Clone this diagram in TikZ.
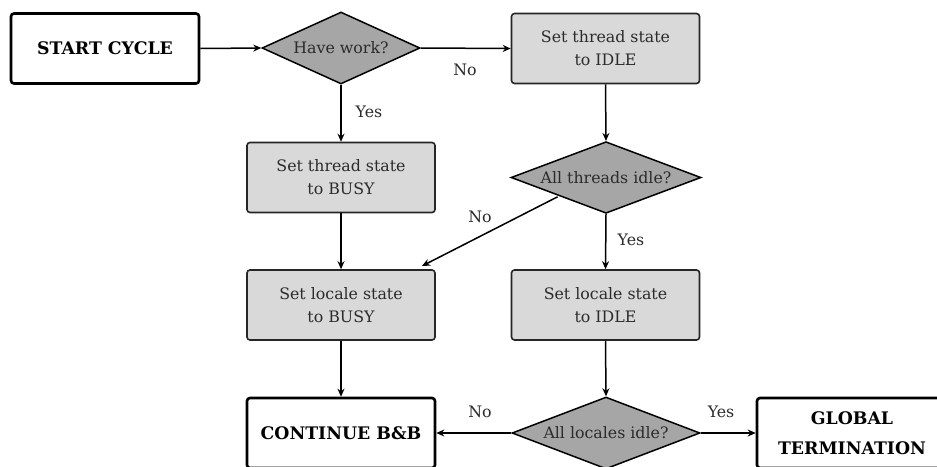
\documentclass[tikz,border=0pt]{standalone}
\usepackage{fontspec}
\setmainfont{DejaVu Serif}
\usetikzlibrary{shapes.geometric,arrows.meta}
\definecolor{boxgray}{HTML}{D9D9D9}
\definecolor{dgray}{HTML}{A6A6A6}
\definecolor{txtgray}{HTML}{2B2B2B}
\tikzset{
  termbox/.style={draw=black, line width=2.6pt, rounded corners=3pt, fill=white,
    minimum width=188pt, minimum height=70pt, align=center, inner sep=0pt,
    font=\fontsize{17.3}{30}\selectfont\bfseries},
  procbox/.style={draw=black!85, line width=1.6pt, rounded corners=3pt, fill=boxgray,
    minimum width=188pt, minimum height=70pt, align=center, inner sep=0pt,
    text=txtgray, font=\fontsize{15.8}{23}\selectfont},
  decide/.style={draw=black, line width=1.5pt, fill=dgray, diamond, aspect=2.2,
    inner sep=0pt, text=txtgray, font=\fontsize{15.8}{18}\selectfont},
  arr/.style={-{Stealth[length=8pt,width=7pt]}, line width=1.5pt},
  lbl/.style={text=txtgray, font=\fontsize{15.8}{18}\selectfont, inner sep=0pt}
}
\begin{document}
\begin{tikzpicture}[x=1pt,y=-1pt]
\clip (0,0) rectangle (937,466);
\fill[white] (0,0) rectangle (937,466);
\node[termbox] (start) at (105,48.5) {START CYCLE};
\node[decide, minimum width=158pt, minimum height=72pt] (work) at (341,48) {Have work?};
\node[procbox] (tidle) at (605.5,48.5) {Set thread state\\to IDLE};
\node[procbox] (tbusy) at (341,177.5) {Set thread state\\to BUSY};
\node[decide, minimum width=190pt, minimum height=71pt] (tall) at (606,177.5) {All threads idle?};
\node[procbox] (lbusy) at (341,305) {Set locale state\\to BUSY};
\node[procbox] (lidle) at (605.5,305) {Set locale state\\to IDLE};
\node[termbox] (cont) at (341,433) {CONTINUE B\&B};
\node[decide, minimum width=188pt, minimum height=72pt] (lall) at (606,433) {All locales idle?};
\node[termbox, minimum width=190pt] (glob) at (852,433) {GLOBAL\\TERMINATION};
\coordinate (noend) at (422,266);
\draw[arr] (start.east) -- (work.west);
\draw[arr] (work.east) -- (tidle.west);
\draw[arr] (work.south) -- (tbusy.north);
\draw[arr] (tidle.south) -- (tall.north);
\draw[arr] (tbusy.south) -- (lbusy.north);
\draw[arr] (tall.south) -- (lidle.north);
\draw[arr] (tall.south west) ++(-0.5,1) coordinate (nostart) -- (noend);
\draw[arr] (lbusy.south) -- (cont.north);
\draw[arr] (lidle.south) -- (lall.north);
\draw[arr] (lall.west) -- (cont.east);
\draw[arr] (lall.east) -- (glob.west);
\node[lbl] (l1) at (465,70) {No};
\node[lbl] (l2) at (369,112) {Yes};
\node[lbl] (l3) at (480,217) {No};
\node[lbl] (l4) at (631,240) {Yes};
\node[lbl] (l5) at (480,412) {No};
\node[lbl] (l6) at (721,412) {Yes};
\end{tikzpicture}
\end{document}
